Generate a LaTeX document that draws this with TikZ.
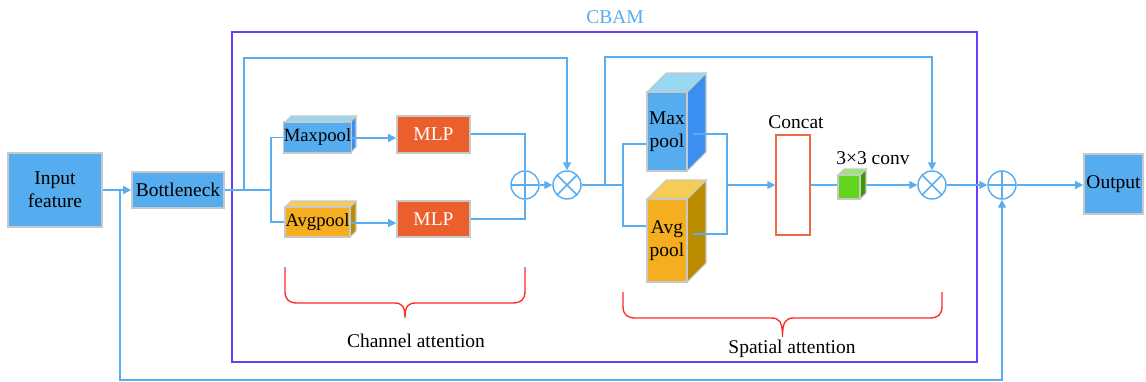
\documentclass[tikz,border=0pt]{standalone}
\usepackage{fontspec}
\setmainfont{Liberation Serif}
\usetikzlibrary{arrows.meta,calc}

\definecolor{lineblue}{HTML}{5AAEF0}
\definecolor{boxblue}{HTML}{55ACEE}
\definecolor{edgegray}{HTML}{C8C8C8}
\definecolor{framepurple}{HTML}{6A3CFF}
\definecolor{mlporange}{HTML}{EB5F2C}
\definecolor{concatred}{HTML}{EE6A45}
\definecolor{bracered}{HTML}{FF2A2A}
\definecolor{bluefront}{HTML}{55ACEE}
\definecolor{bluetop}{HTML}{98D7F2}
\definecolor{blueside}{HTML}{3A8FF0}
\definecolor{orangefront}{HTML}{F5AE1F}
\definecolor{orangetop}{HTML}{F5CC55}
\definecolor{orangeside}{HTML}{BC8C00}
\definecolor{greenfront}{HTML}{63D41E}
\definecolor{greentop}{HTML}{98E870}
\definecolor{greenside}{HTML}{3C9A00}

\tikzset{
  every node/.append style={font=\fontsize{14.6}{17.5}\selectfont},
  flow/.style={draw=lineblue, line width=1.1pt},
  arr/.style={flow, -{Triangle[length=6pt,width=6pt]}},
  bluebox/.style={draw=edgegray, line width=1.2pt, fill=boxblue, inner sep=0pt, align=center},
  mlpbox/.style={draw=edgegray, line width=1.2pt, fill=mlporange, text=white, inner sep=0pt},
  opcircle/.style={circle, draw=lineblue, line width=1.1pt, minimum size=21pt, inner sep=0pt},
  plusop/.style={opcircle, path picture={
      \draw[lineblue, line width=1.1pt] (path picture bounding box.north) -- (path picture bounding box.south)
        (path picture bounding box.west) -- (path picture bounding box.east);}},
  timesop/.style={opcircle, path picture={
      \draw[lineblue, line width=1.1pt] (path picture bounding box.north west) -- (path picture bounding box.south east)
        (path picture bounding box.south west) -- (path picture bounding box.north east);}},
  cubeface/.style={draw=edgegray, line width=0.8pt, inner sep=0pt, align=center},
  bracket/.style={draw=bracered, line width=1pt},
}

% #1 name, #2 x1, #3 y1, #4 x2, #5 y2 (front face), #6 depth, #7 colour prefix, #8 text
\newcommand{\cuboid}[8]{%
  \filldraw[fill=#7side, draw=edgegray, line width=0.8pt]
    (#4,#5) -- (#4,#3) -- ({#4+#6},{#3-#6}) -- ({#4+#6},{#5-#6}) -- cycle;
  \filldraw[fill=#7top, draw=edgegray, line width=0.8pt]
    (#2,#3) -- ({#2+#6},{#3-#6}) -- ({#4+#6},{#3-#6}) -- (#4,#3) -- cycle;
  \node[cubeface, fill=#7front, minimum width={(#4-#2)*0.75pt}, minimum height={(#5-#3)*0.75pt}]
    (#1) at ({(#2+#4)/2},{(#3+#5)/2}) {#8};
}

\begin{document}
\begin{tikzpicture}[x=0.75pt, y=-0.75pt]
\useasboundingbox (0,0) rectangle (1146,382);

% CBAM frame
\draw[framepurple, line width=1.2pt] (232,32) rectangle (977,362);
\node[text=boxblue] (cbam) at (615,17) {CBAM};

% outer blocks
\node[bluebox, minimum width=70.5pt, minimum height=55.5pt] (in) at (55,190) {Input\\feature};
\node[bluebox, minimum width=69pt, minimum height=27pt] (bott) at (178,190) {Bottleneck};
\node[bluebox, minimum width=44.25pt, minimum height=45pt] (out) at (1113.5,184) {Output};

% channel attention
\cuboid{mp1}{285}{122}{350}{153}{6}{blue}{\fontsize{14}{16}\selectfont Maxpool}
\cuboid{ap1}{285}{207}{350}{237}{6}{orange}{\fontsize{14}{16}\selectfont Avgpool}
\node[mlpbox, minimum width=54.75pt, minimum height=27.75pt] (mlp1) at (433.5,134.5) {MLP};
\node[mlpbox, minimum width=54.75pt, minimum height=27pt] (mlp2) at (433.5,219) {MLP};
\node[plusop] (plus1) at (525,185) {};
\node[timesop] (times1) at (567,185) {};

% spatial attention
\cuboid{mp2}{647}{92}{687}{171}{19}{blue}{Max\\pool}
\cuboid{ap2}{647}{199}{687}{282}{19}{orange}{Avg\\pool}
\node[draw=concatred, line width=1.1pt, fill=white, minimum width=25.5pt, minimum height=75pt, inner sep=0pt] (concat) at (793,185) {};
\node (concatlbl) at (796,122) {Concat};
\node (convlbl) at (873,158) {3×3 conv};
\node[timesop] (times2) at (932,185) {};
\node[plusop] (plus2) at (1002,185) {};

% junction points
\coordinate (feed) at (120,190);
\coordinate (cskip) at (244,190);
\coordinate (csplit) at (271,190);
\coordinate (sskip) at (605,185);
\coordinate (ssplit) at (623,185);
\coordinate (smerge) at (727,185);

% main path
\draw[arr] (in.east |- bott.west) -- (bott.west);
\draw[flow] (bott.east) -- (csplit);
\draw[flow] (csplit) |- (mp1.west);
\draw[flow] (csplit) |- (ap1.west);
\draw[arr] (mp1.east |- 0,138) -- (mlp1.west |- 0,138);
\draw[arr] (ap1.east |- 0,223) -- (mlp2.west |- 0,223);
\draw[flow] (mlp1.east |- 0,134) -| (plus1.north);
\draw[flow] (mlp2.east |- 0,219) -| (plus1.south);
\draw[arr] (plus1.east) -- (times1.west);
\draw[flow] (times1.east) -- (ssplit);
\draw[flow] (ssplit) |- (mp2.west |- 0,144);
\draw[flow] (ssplit) |- (ap2.west |- 0,226);
\draw[flow] ([xshift=3.75pt]mp2.east |- 0,134) -| (smerge);
\draw[flow] ([xshift=3.75pt]ap2.east |- 0,234) -| (smerge);
\draw[arr] (smerge) -- (concat.west);
\draw[arr] (concat.east) -- (times2.west);
\cuboid{conv}{838}{175}{860}{199}{6}{green}{}
\draw[arr] (times2.east) -- (plus2.west);
\draw[arr] (plus2.east) -- (out.west |- plus2.east);

% skip connections
\draw[arr] (cskip) -- ++(0,-132) -| (times1.north);
\draw[arr] (sskip) -- ++(0,-128) -| (times2.north);
\draw[arr] (feed) -- ++(0,190) -| (plus2.south);

% braces
\draw[bracket] (285,267) -- (285,291) .. controls (285,300) and (289,303) .. (298,303)
  -- (394,303) .. controls (402,303) and (405,306) .. (405,318)
  .. controls (405,306) and (408,303) .. (416,303)
  -- (512,303) .. controls (521,303) and (525,300) .. (525,291) -- (525,267);
\draw[bracket] (623,292) -- (623,306) .. controls (623,315) and (627,318) .. (636,318)
  -- (771,318) .. controls (779,318) and (782.5,321) .. (782.5,337)
  .. controls (782.5,321) and (786,318) .. (794,318)
  -- (929,318) .. controls (938,318) and (942,315) .. (942,306) -- (942,292);
\node (chlbl) at (416,341) {Channel attention};
\node (splbl) at (792,349) {Spatial attention};
\end{tikzpicture}
\end{document}
